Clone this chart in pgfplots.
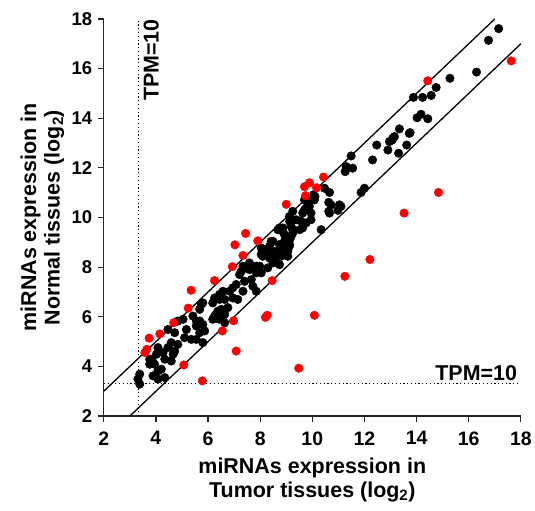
\documentclass[border=0pt]{standalone}
\usepackage{pgfplots}
\pgfplotsset{compat=1.18}
\usepackage{fontspec}
\setmainfont{Liberation Sans}

\newcommand\ticksz{\fontsize{19.5}{22}\selectfont\bfseries}
\newcommand\yticksz{\fontsize{18.5}{21}\selectfont\bfseries}
\newcommand\labsz{\fontsize{21.5}{23.5}\selectfont\bfseries}

\pgfplotstableread{
x y
17.15 17.61
16.76 17.14
16.30 15.86
15.28 15.61
14.75 15.24
14.56 14.92
14.23 14.84
13.88 14.84
14.17 14.16
14.43 13.98
14.02 14.02
13.75 13.42
13.34 13.57
13.72 13.39
13.15 13.26
13.08 13.19
12.96 13.06
13.06 13.12
12.90 12.72
13.62 12.92
13.31 12.59
12.47 12.92
12.31 12.32
11.49 12.48
11.30 12.05
11.55 11.99
11.26 11.85
11.87 11.01
12.00 11.18
10.47 11.18
10.66 11.01
10.05 10.92
10.08 10.71
10.63 10.61
11.04 10.51
10.98 10.29
10.63 10.25
9.70 10.71
9.76 10.38
9.95 10.18
10.72 10.51
11.10 10.45
10.66 10.18
10.10 10.85
9.83 10.71
9.89 10.45
9.25 10.25
9.12 10.04
9.25 9.91
9.70 10.31
9.95 9.91
9.76 9.78
9.63 9.58
9.51 9.51
9.57 9.85
10.34 9.51
8.74 9.58
9.25 9.51
9.19 9.24
8.93 9.31
9.06 8.97
8.80 8.91
8.49 9.04
8.36 8.84
8.17 8.71
8.04 8.77
8.61 8.64
8.87 8.71
9.06 8.64
9.12 8.84
9.13 9.84
9.19 9.64
8.87 9.58
8.68 9.51
8.93 9.04
9.13 8.91
8.74 8.91
8.42 9.04
8.29 8.71
8.17 8.57
8.42 8.57
8.04 8.51
8.36 8.37
8.55 8.31
8.74 8.10
8.49 8.17
9.06 8.44
8.80 8.44
7.98 8.04
7.85 7.77
8.04 7.77
8.29 7.97
7.59 7.90
7.34 8.04
7.21 7.70
7.40 7.43
7.66 7.50
7.08 7.30
7.72 7.23
7.85 7.03
7.34 7.03
6.95 7.17
6.83 7.03
6.95 6.76
7.14 6.70
6.57 7.03
6.44 6.70
6.25 6.76
6.18 6.56
5.80 6.56
5.68 6.30
6.38 6.23
6.76 6.37
6.57 6.03
6.25 6.03
6.44 5.90
6.64 5.76
5.42 6.03
5.55 5.83
6.44 6.90
6.64 6.70
6.51 6.30
6.31 6.10
6.64 6.10
6.18 5.90
5.74 6.50
5.68 5.83
5.55 5.63
5.80 5.69
5.87 5.43
5.68 5.36
5.55 5.09
5.80 4.96
5.36 5.09
5.10 5.16
5.17 5.49
5.04 5.90
4.84 5.83
4.72 5.36
4.46 5.49
4.59 4.96
4.84 4.89
4.72 4.62
4.46 4.76
4.27 4.55
4.34 4.29
4.08 4.76
4.02 4.49
3.82 4.29
3.76 4.09
3.95 4.09
4.08 3.82
3.89 3.62
4.08 3.49
4.34 3.55
4.21 3.89
4.59 4.22
4.66 4.49
3.38 3.69
3.31 3.49
3.38 3.29
3.76 4.29
3.89 4.15
7.28 7.84
7.46 7.97
7.59 8.17
7.85 8.04
8.10 8.44
8.61 8.57
9.13 9.11
9.25 9.38
9.38 9.91
9.63 10.18
8.87 9.44
}\blackpts

\pgfplotstableread{
x y
9.00 10.53
7.44 9.36
7.03 8.90
7.91 9.06
7.34 8.47
6.93 8.02
6.25 7.46
5.35 7.07
5.24 6.35
4.68 5.76
4.15 5.31
3.74 5.14
3.65 4.69
3.58 4.56
5.07 4.06
5.78 3.42
6.98 5.84
7.08 4.62
6.55 5.43
8.46 7.46
8.20 5.98
8.27 6.06
10.08 6.06
9.48 3.93
13.52 10.18
12.21 8.31
11.25 7.63
14.43 15.51
17.63 16.31
14.84 11.01
10.43 11.63
9.89 11.40
9.70 11.24
10.16 11.20
9.74 10.88
}\redpts

\begin{document}
\begin{tikzpicture}
\path (-104pt,-95pt) rectangle (431pt,417pt);
\begin{axis}[
    scale only axis,
    width=418pt, height=398pt,
    xmin=2, xmax=18, ymin=2, ymax=18,
    xtick={2,4,...,18}, ytick={2,4,...,18},
    axis x line=bottom, axis y line=left,
    axis line style={-, line width=1.4pt, black!85},
    tick align=outside,
    major tick length=6pt,
    tick style={line width=1.2pt, black!85},
    /pgf/number format/assume math mode=true,
    xticklabel style={font=\ticksz},
    yticklabel style={font=\yticksz},
    xticklabel shift=6pt,
    yticklabel shift=2pt,
    xlabel={miRNAs expression in\\Tumor tissues (log\textsubscript{2})},
    ylabel={miRNAs expression in\\Normal tissues (log\textsubscript{2})},
    label style={font=\labsz, align=center},
    xlabel style={at={(axis description cs:0.5,-0.161)}, anchor=center},
    ylabel style={at={(axis description cs:-0.147,0.5)}, anchor=center},
    clip=false,
]
\addplot[no marks, line width=1.3pt] coordinates {(2,3) (17,18)};
\addplot[no marks, line width=1.3pt] coordinates {(3,2) (18,17)};
\addplot[no marks, line width=1.2pt, dash pattern=on 1.2pt off 2.6pt] coordinates {(3.32,2) (3.32,18)};
\addplot[no marks, line width=1.2pt, dash pattern=on 1.2pt off 2.6pt] coordinates {(2,3.32) (18,3.32)};
\addplot[only marks, mark=*, mark size=4.3pt, mark options={fill=black, draw=black}] table {\blackpts};
\addplot[only marks, mark=*, mark size=4.3pt, mark options={fill=red, draw=red}] table {\redpts};
\node[rotate=90, anchor=east, font=\labsz, inner sep=0pt] at (axis cs:3.82,18) {TPM=10};
\node[anchor=base east, font=\labsz, inner sep=0pt] at (axis cs:17.86,3.45) {TPM=10};
\end{axis}
\end{tikzpicture}
\end{document}
